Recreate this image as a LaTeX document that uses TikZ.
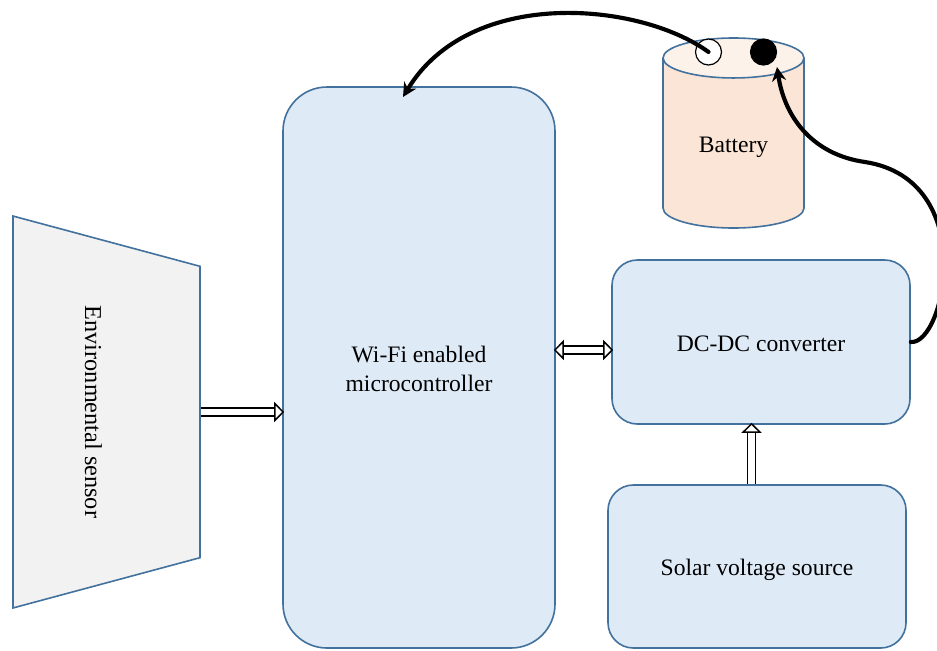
\documentclass[tikz,border=0pt]{standalone}
\usepackage{fontspec}
\setmainfont{Liberation Serif}
\usetikzlibrary{positioning, shapes.geometric, arrows.meta}

\definecolor{boxfill}{HTML}{DEEAF6}
\definecolor{boxline}{HTML}{41719C}
\definecolor{sensorfill}{HTML}{F2F2F2}
\definecolor{cellfill}{HTML}{FBE5D6}
\definecolor{celltop}{HTML}{FDF2EA}

\tikzset{
    block/.style={draw=boxline, line width=1.2pt, fill=boxfill, align=center, font=\fontsize{17.7}{21.75}\selectfont, inner sep=0pt},
    link/.style={draw=black, line width=1.1pt, double=white, double distance=5pt, shorten >=-1.5pt, -{Triangle[fill=white, line width=1.1pt, length=7.5pt, width=15pt]}},
    biglink/.style={link, shorten <=-1.5pt, {Triangle[fill=white, line width=1.1pt, length=7.5pt, width=15pt]}-{Triangle[fill=white, line width=1.1pt, length=7.5pt, width=15pt]}},
    wire/.style={line width=3.1pt, line cap=round, -{Stealth[length=10.5pt, width=10.5pt]}},
    pole/.style={circle, draw=black, line width=0.9pt, minimum size=19.5pt, inner sep=0pt}
}

\begin{document}
\begin{tikzpicture}[x=0.75pt, y=-0.75pt]
    \useasboundingbox (0,0) rectangle (937,650);

    % Sensor
    \node (sensor) [trapezium, trapezium stretches=true, trapezium angle=87.53, rotate=-90, draw=boxline, line width=1.2pt, fill=sensorfill, minimum width=294pt, minimum height=140.25pt, inner sep=2pt] at (106.5,412) {\strut};
    \node (sensortext) [rotate=-90, font=\fontsize{18.2}{21}\selectfont] at (93.5,412) {Environmental sensor};

    % Microcontroller
    \node (mcu) [block, rounded corners=33pt, minimum width=204pt, minimum height=420.75pt] at (419,367.5) {\rule{0pt}{15pt}Wi-Fi enabled\\microcontroller};

    % Converter and source
    \node (conv) [block, text height=15pt, rounded corners=19pt, minimum width=223.5pt, minimum height=123pt] at (761,342) {DC-DC converter};
    \node (solar) [block, text height=18pt, rounded corners=19pt, minimum width=223.5pt, minimum height=122.25pt] at (757,566.5) {Solar voltage source};

    % Battery
    \node (cell) [cylinder, shape border rotate=90, aspect=0.51, cylinder uses custom fill, cylinder body fill=cellfill, cylinder end fill=celltop, draw=boxline, line width=1.2pt, minimum width=105.75pt, minimum height=142.5pt, font=\fontsize{17.7}{21}\selectfont, anchor=shape center] at (733.5,133) {Battery};
    \node (plus) [pole, fill=white] at (708.5,52) {};
    \node (minus) [pole, fill=black] at (763.5,52) {};

    % Arrows between blocks
    \draw[link] (sensor.north) -- (sensor.north -| mcu.west);
    \draw[biglink] ([yshift=-6pt]mcu.east |- conv.west) -- ([yshift=-6pt]conv.west);
    \draw[link] ([xshift=-7.1pt]conv.south |- solar.north) -- ([xshift=-7.1pt]conv.south);

    % Wires
    \coordinate (mcutop) at (403,97);
    \coordinate (minustip) at (777,67);
    \draw[wire] (plus.center) .. controls (640,2) and (470,-14) .. (mcutop);
    \draw[wire] (conv.east) .. controls (945,345) and (980,180) .. (865,162) .. controls (815,155) and (785,120) .. (minustip);
\end{tikzpicture}
\end{document}
